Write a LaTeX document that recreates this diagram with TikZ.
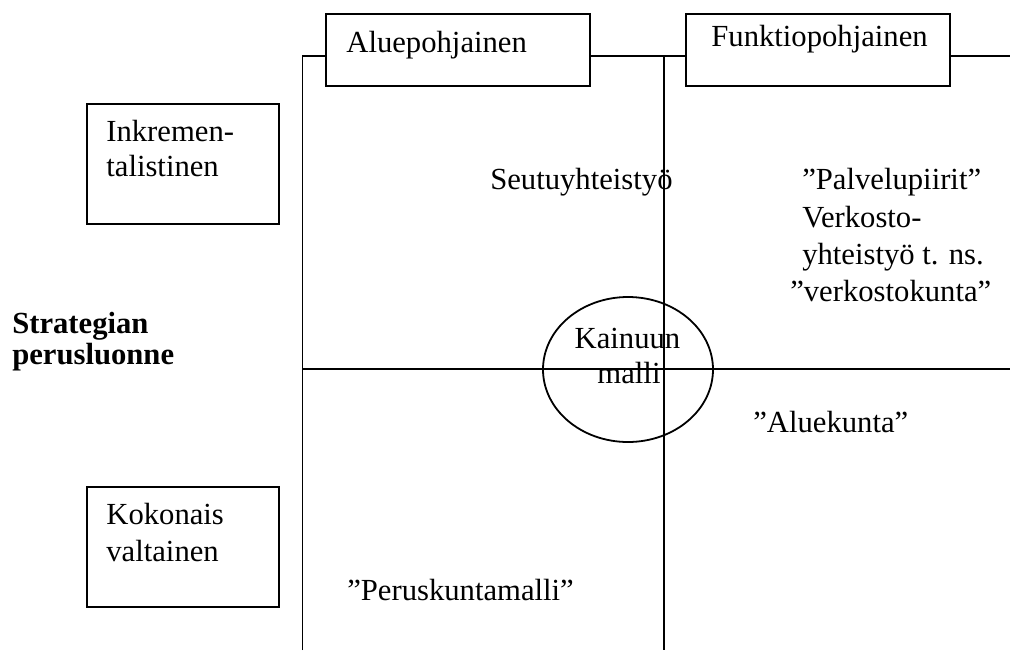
\documentclass[tikz,border=0pt]{standalone}
\usepackage{fontspec}
\setmainfont{Liberation Serif}
\usetikzlibrary{shapes.geometric,positioning,calc}

\tikzset{
  rule/.style={line width=1.35pt},
  topbox/.style={draw, rule, inner sep=0pt, minimum width=198pt, minimum height=54pt},
  sidebox/.style={draw, rule, inner sep=0pt, minimum width=144pt, minimum height=90pt},
  txt/.style={inner sep=0pt, anchor=base west, font=\fontsize{23}{27}\selectfont},
  ctxt/.style={inner sep=0pt, anchor=base, font=\fontsize{23}{27}\selectfont},
}

\begin{document}
\begin{tikzpicture}[x=0.75pt,y=0.75pt,yscale=-1,xscale=1]
\useasboundingbox (0,0) rectangle (1010,650);

%Shape: Rectangle
\node[topbox] (alue) at (458,50) {};
\node[topbox] (funk) at (818,50) {};
\node[sidebox] (inkr) at (183,164) {};
\node[sidebox] (koko) at (183,547) {};
%Shape: Ellipse
\node[draw, rule, ellipse, inner sep=0pt, minimum width=127.5pt, minimum height=108.75pt] (kain) at (628,369.5) {};

\coordinate (lt) at (302.5,56);
\coordinate (lb) at (302.5,650);
\coordinate (mt) at (664,56);
\coordinate (mb) at (664,650);
\coordinate (rt) at (1010,56);
\coordinate (hl) at (302.5,369);
\coordinate (hr) at (1010,369);

%Straight Lines
\draw[rule] (lb) -- (lt) -- (lt -| alue.west);
\draw[rule] (alue.east |- lt) -- (funk.west |- lt);
\draw[rule] (funk.east |- lt) -- (rt);
\draw[rule] (mt) -- (mb);
\draw[rule] (hl) -- (hr);

% Text Node
\node[txt] (aluetxt) at ($(alue.north west)+(21,39)$) {Aluepohjainen};
\node[txt] (funktxt) at ($(funk.north west)+(26,33)$) {Funktiopohjainen};
\node[txt] (inkr1) at ($(inkr.north west)+(20,38)$) {Inkremen-};
\node[txt] (inkr2) at ($(inkr1.base west)+(0,35)$) {talistinen};
\node[txt] (koko1) at ($(koko.north west)+(20,38)$) {Kokonais};
\node[txt] (koko2) at ($(koko1.base west)+(0,37)$) {valtainen};
\node[txt, font=\fontsize{23}{27}\selectfont\bfseries] (strat1) at (12,333) {Strategian};
\node[txt, font=\fontsize{23}{27}\selectfont\bfseries] (strat2) at ($(strat1.base west)+(0,31)$) {perusluonne};
\node[ctxt] (kain1) at ($(kain.center)+(-0.5,-21.5)$) {Kainuun};
\node[ctxt] (kain2) at ($(kain.center)+(1,13.5)$) {malli};
\node[txt] (seutu) at (490,189) {Seutuyhteistyö};
\node[txt] (palv) at (802,189) {”Palvelupiirit”};
\node[txt] (verk1) at (802,227) {Verkosto-};
\node[txt] (verk2) at (802,264) {yhteistyö t. ns.};
\node[txt] (verk3) at (790,301) {”verkostokunta”};
\node[txt] (aluek) at (753,432) {”Aluekunta”};
\node[txt] (perus) at (347,600) {”Peruskuntamalli”};

\end{tikzpicture}
\end{document}
